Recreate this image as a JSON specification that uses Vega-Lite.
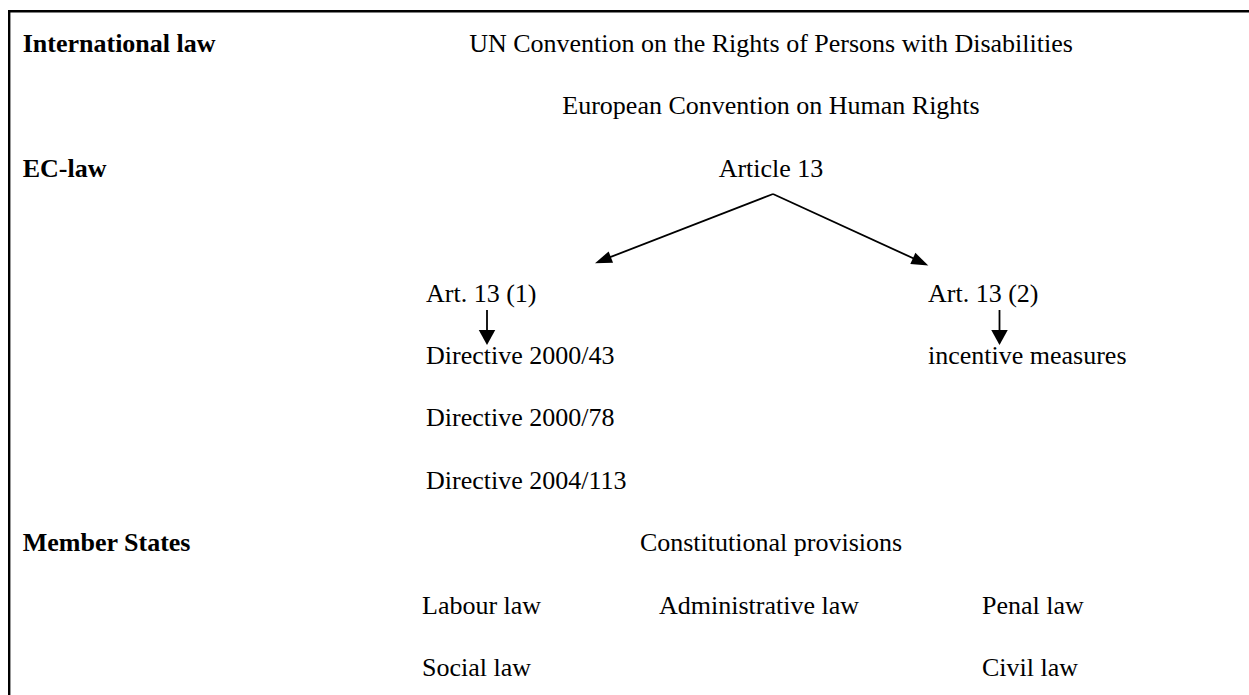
{
  "$schema": "https://vega.github.io/schema/vega-lite/v6.json",
  "width": 1249,
  "height": 695,
  "padding": 0,
  "autosize": {"type": "none"},
  "background": "white",
  "config": {"view": {"stroke": null}},
  "encoding": {
    "x": {"field": "x", "type": "quantitative", "scale": {"domain": [0, 1249], "nice": false, "zero": false}, "axis": null},
    "y": {"field": "y", "type": "quantitative", "scale": {"domain": [0, 695], "nice": false, "zero": false, "reverse": true}, "axis": null}
  },
  "layer": [
    {
      "data": {"values": [
        {"x": 8, "y": 11.2, "x2": 1249, "y2": 11.2},
        {"x": 9.2, "y": 10, "x2": 9.2, "y2": 695}
      ]},
      "mark": {"type": "rule", "color": "black", "strokeWidth": 2.4},
      "encoding": {"x2": {"field": "x2"}, "y2": {"field": "y2"}}
    },
    {
      "data": {"values": [
        {"x": 773, "y": 194, "x2": 601, "y2": 260.7},
        {"x": 773, "y": 194, "x2": 922, "y2": 262.3},
        {"x": 487, "y": 310, "x2": 487, "y2": 338},
        {"x": 999.5, "y": 310, "x2": 999.5, "y2": 338}
      ]},
      "mark": {"type": "rule", "color": "black", "strokeWidth": 1.8},
      "encoding": {"x2": {"field": "x2"}, "y2": {"field": "y2"}}
    },
    {
      "data": {"values": [{"x": 595, "y": 263.3}]},
      "mark": {"type": "point", "shape": "M0,0L-0.36,-1L0.36,-1Z", "filled": true, "color": "black", "opacity": 1, "size": 1156, "angle": 68.8}
    },
    {
      "data": {"values": [{"x": 928.3, "y": 265.5}]},
      "mark": {"type": "point", "shape": "M0,0L-0.36,-1L0.36,-1Z", "filled": true, "color": "black", "opacity": 1, "size": 1156, "angle": 294.6}
    },
    {
      "data": {"values": [{"x": 487, "y": 345}, {"x": 999.5, "y": 345}]},
      "mark": {"type": "point", "shape": "M0,0L-0.55,-1L0.55,-1Z", "filled": true, "color": "black", "opacity": 1, "size": 900, "angle": 0}
    },
    {
      "data": {"values": [
        {"label": "International law", "x": 22.7, "y": 52},
        {"label": "EC-law", "x": 22.7, "y": 176.8},
        {"label": "Member States", "x": 22.7, "y": 551.2}
      ]},
      "mark": {"type": "text", "align": "left", "baseline": "alphabetic", "font": "Liberation Serif", "fontSize": 26, "fontWeight": "bold", "color": "black"},
      "encoding": {"text": {"field": "label"}}
    },
    {
      "data": {"values": [
        {"label": "UN Convention on the Rights of Persons with Disabilities", "x": 771, "y": 52},
        {"label": "European Convention on Human Rights", "x": 771, "y": 114.4},
        {"label": "Article 13", "x": 771, "y": 176.8},
        {"label": "Constitutional provisions", "x": 771, "y": 551.2}
      ]},
      "mark": {"type": "text", "align": "center", "baseline": "alphabetic", "font": "Liberation Serif", "fontSize": 26, "color": "black"},
      "encoding": {"text": {"field": "label"}}
    },
    {
      "data": {"values": [
        {"label": "Art. 13 (1)", "x": 426, "y": 301.6},
        {"label": "Directive 2000/43", "x": 426, "y": 364},
        {"label": "Directive 2000/78", "x": 426, "y": 426.4},
        {"label": "Directive 2004/113", "x": 426, "y": 488.8},
        {"label": "Labour law", "x": 422, "y": 613.6},
        {"label": "Social law", "x": 422, "y": 676},
        {"label": "Administrative law", "x": 659, "y": 613.6},
        {"label": "Penal law", "x": 982, "y": 613.6},
        {"label": "Civil law", "x": 982, "y": 676},
        {"label": "Art. 13 (2)", "x": 928, "y": 301.6},
        {"label": "incentive measures", "x": 928, "y": 364}
      ]},
      "mark": {"type": "text", "align": "left", "baseline": "alphabetic", "font": "Liberation Serif", "fontSize": 26, "color": "black"},
      "encoding": {"text": {"field": "label"}}
    }
  ]
}
